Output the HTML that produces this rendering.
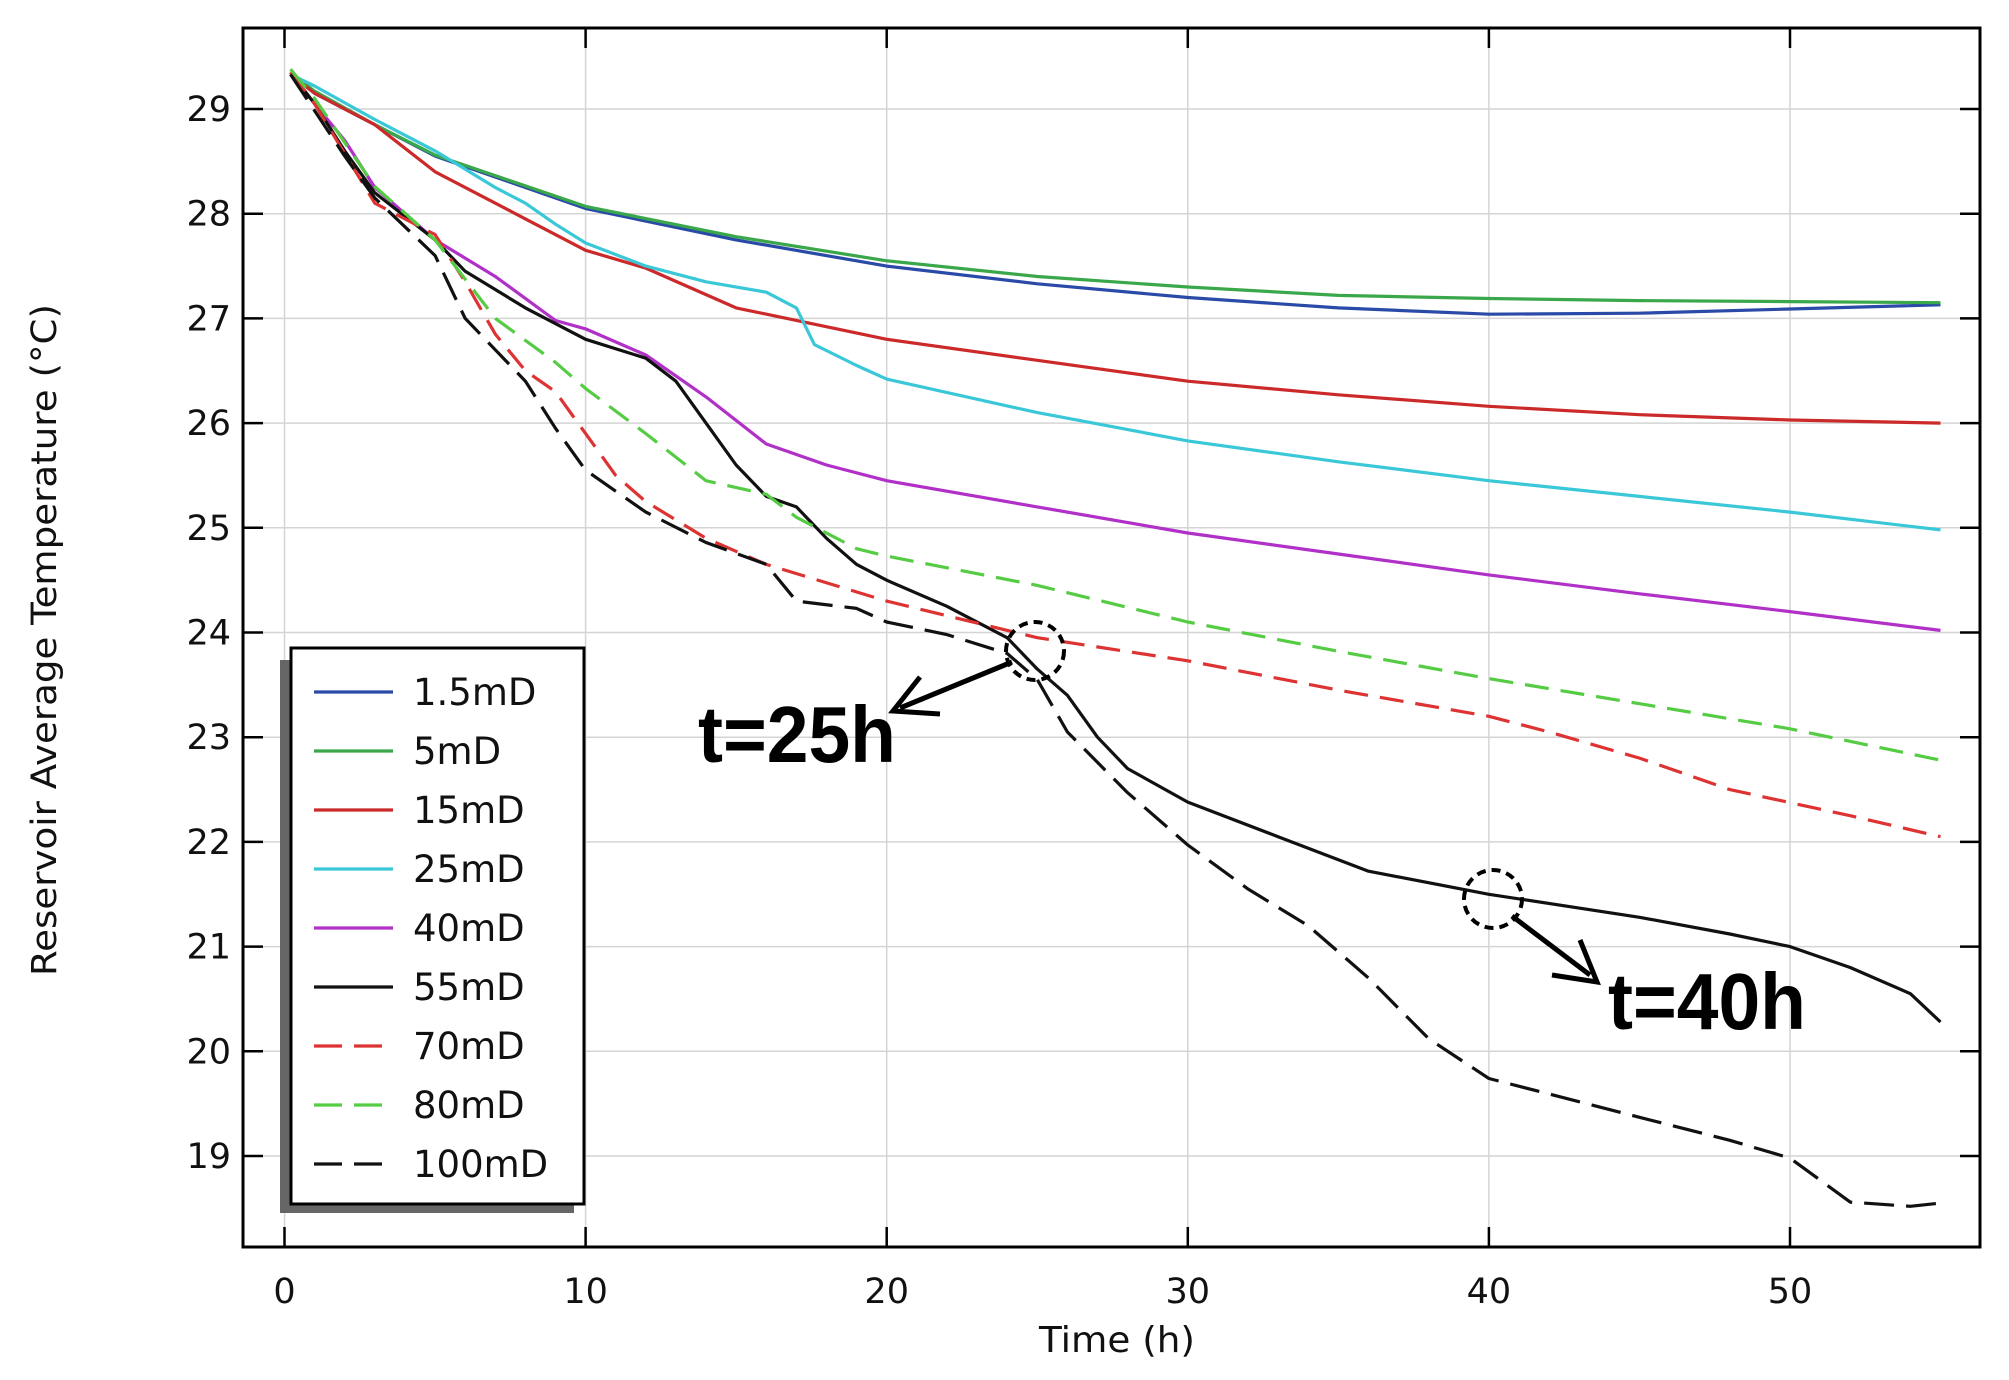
<!DOCTYPE html>
<html><head><meta charset="utf-8"><style>
html,body{margin:0;padding:0;background:#fff;}
svg{display:block;font-family:"DejaVu Sans","Liberation Sans",sans-serif;}
</style></head><body>
<svg id="s" width="2009" height="1380" viewBox="0 0 2009 1380" xmlns="http://www.w3.org/2000/svg">
<rect width="2009" height="1380" fill="#fff"/>
<g id="grid" stroke="#d4d4d4" stroke-width="1.5"></g>
<g id="series" fill="none" stroke-width="3.2" stroke-linejoin="round"></g>
<rect x="243" y="28" width="1737" height="1219" fill="none" stroke="#000" stroke-width="3"/>
<g id="ticks" stroke="#000" stroke-width="2.5"></g>
<g id="labels" font-size="35" fill="#111"></g>
<text x="1117" y="1352" font-size="36" text-anchor="middle" fill="#111" textLength="156" lengthAdjust="spacingAndGlyphs">Time (h)</text>
<text transform="translate(56,640) rotate(-90)" font-size="35" text-anchor="middle" fill="#111" textLength="672" lengthAdjust="spacingAndGlyphs">Reservoir Average Temperature (°C)</text>
<rect x="280" y="660" width="294" height="553" fill="#666"/>
<rect x="291" y="648" width="293" height="556" fill="#fff" stroke="#000" stroke-width="3"/>
<g id="legend" font-size="37" fill="#111"></g>
<circle cx="1035" cy="651" r="29" fill="none" stroke="#000" stroke-width="4" stroke-dasharray="9 6"/>
<circle cx="1493" cy="899" r="29" fill="none" stroke="#000" stroke-width="4" stroke-dasharray="9 6"/>
<line x1="1012" y1="662" x2="900" y2="708" stroke="#000" stroke-width="5"/>
<polyline points="920,677 893,711 940,714" fill="none" stroke="#000" stroke-width="5"/>
<line x1="1512" y1="916" x2="1590" y2="975" stroke="#000" stroke-width="5"/>
<polyline points="1580,940 1597,982 1552,975" fill="none" stroke="#000" stroke-width="5"/>
<text x="698" y="762" font-size="80" font-weight="bold" fill="#000" font-family="'Liberation Sans',sans-serif" textLength="198" lengthAdjust="spacingAndGlyphs">t=25h</text>
<text x="1608" y="1029" font-size="80" font-weight="bold" fill="#000" font-family="'Liberation Sans',sans-serif" textLength="198" lengthAdjust="spacingAndGlyphs">t=40h</text>
</svg>
<script>
var NS="http://www.w3.org/2000/svg";
function X(t){return 284.5+t*30.11;}
function Y(T){return 109+(29-T)*104.7;}
function el(p,n,a,txt){var e=document.createElementNS(NS,n);for(var k in a)e.setAttribute(k,a[k]);if(txt!=null)e.textContent=txt;document.getElementById(p).appendChild(e);return e;}
for(var t=0;t<=50;t+=10){var x=X(t);
 el("grid","line",{x1:x,y1:28,x2:x,y2:1247});
 el("ticks","line",{x1:x,y1:1247,x2:x,y2:1227});
 el("ticks","line",{x1:x,y1:28,x2:x,y2:48});
 el("labels","text",{x:x,y:1303,"text-anchor":"middle"},t);}
for(var T=19;T<=29;T++){var y=Y(T);
 el("grid","line",{x1:243,y1:y,x2:1980,y2:y});
 el("ticks","line",{x1:243,y1:y,x2:263,y2:y});
 el("ticks","line",{x1:1980,y1:y,x2:1960,y2:y});
 el("labels","text",{x:231,y:y+12,"text-anchor":"end"},T);}
var S=[
["1.5mD","#2a4aa8","",[[0.2,29.33],[1,29.15],[3,28.85],[5,28.55],[10,28.05],[15,27.75],[20,27.5],[25,27.33],[30,27.2],[35,27.1],[40,27.04],[45,27.05],[50,27.09],[55,27.13]]],
["5mD","#3aa84a","",[[0.2,29.35],[1,29.17],[3,28.85],[5,28.56],[10,28.07],[15,27.78],[20,27.55],[25,27.4],[30,27.3],[35,27.22],[40,27.19],[45,27.17],[50,27.16],[55,27.15]]],
["15mD","#cc2a2a","",[[0.2,29.33],[1,29.15],[3,28.85],[5,28.4],[8,27.95],[10,27.65],[12,27.48],[15,27.1],[20,26.8],[25,26.6],[30,26.4],[35,26.27],[40,26.16],[45,26.08],[50,26.03],[55,26.0]]],
["25mD","#3ac8d8","",[[0.2,29.33],[1,29.22],[3,28.9],[5,28.6],[7,28.25],[8,28.1],[9,27.9],[10,27.72],[12,27.5],[14,27.35],[16,27.25],[17,27.1],[17.6,26.75],[19,26.55],[20,26.42],[25,26.1],[30,25.83],[35,25.63],[40,25.45],[45,25.3],[50,25.15],[55,24.98]]],
["40mD","#b030c8","",[[0.2,29.35],[1,29.05],[2,28.7],[3,28.25],[5,27.75],[7,27.4],[9,26.98],[10,26.9],[12,26.65],[14,26.25],[16,25.8],[18,25.6],[20,25.45],[25,25.2],[30,24.95],[35,24.75],[40,24.55],[45,24.37],[50,24.2],[55,24.02]]],
["55mD","#111","",[[0.2,29.35],[1,29.05],[2,28.6],[3,28.2],[5,27.75],[6,27.45],[8,27.1],[10,26.8],[12,26.62],[13,26.4],[14,26.0],[15,25.6],[16,25.3],[17,25.2],[18,24.9],[19,24.65],[20,24.5],[22,24.25],[24,23.95],[25,23.65],[26,23.4],[27,23.0],[28,22.7],[30,22.38],[33,22.05],[36,21.72],[40,21.5],[45,21.28],[48,21.12],[50,21.0],[52,20.8],[54,20.55],[55,20.28]]],
["70mD","#dd3333","24 12",[[0.2,29.35],[1,29.05],[3,28.1],[5,27.8],[6,27.35],[7,26.85],[8,26.5],[9,26.3],[10,25.9],[11,25.5],[12,25.25],[14,24.9],[16,24.65],[20,24.3],[25,23.95],[30,23.73],[35,23.45],[40,23.2],[42,23.05],[45,22.8],[48,22.5],[52,22.25],[55,22.05]]],
["80mD","#55cc44","24 12",[[0.2,29.38],[1,29.1],[3,28.26],[5,27.75],[7,27.0],[9,26.58],[10,26.33],[12,25.9],[14,25.45],[16,25.32],[17,25.1],[19,24.8],[20,24.73],[25,24.45],[30,24.1],[35,23.82],[40,23.56],[45,23.32],[50,23.08],[55,22.78]]],
["100mD","#111","30 12",[[0.2,29.33],[0.5,29.2],[2,28.55],[3,28.15],[5,27.6],[6,27.0],[7,26.7],[8,26.4],[9,25.95],[10,25.55],[12,25.15],[14,24.86],[16,24.65],[17,24.3],[19,24.23],[20,24.1],[22,23.98],[24,23.8],[25,23.55],[26,23.05],[28,22.47],[30,21.97],[32,21.55],[34,21.2],[36,20.7],[38,20.12],[40,19.74],[45,19.37],[48,19.15],[50,18.98],[51,18.77],[52,18.56],[54,18.52],[55,18.55]]]
];
S.forEach(function(s,i){
 var pts=s[3].map(function(p){return X(p[0]).toFixed(1)+","+Y(p[1]).toFixed(1);}).join(" ");
 var a={points:pts,stroke:s[1]};if(s[2])a["stroke-dasharray"]=s[2];
 el("series","polyline",a);
 var y=692+i*59;
 var b={x1:314,y1:y,x2:393,y2:y,stroke:s[1],"stroke-width":3.2};if(s[2])b["stroke-dasharray"]="28 12";
 el("legend","line",b);
 el("legend","text",{x:413,y:y+13},s[0]);
});
</script>
</body></html>
